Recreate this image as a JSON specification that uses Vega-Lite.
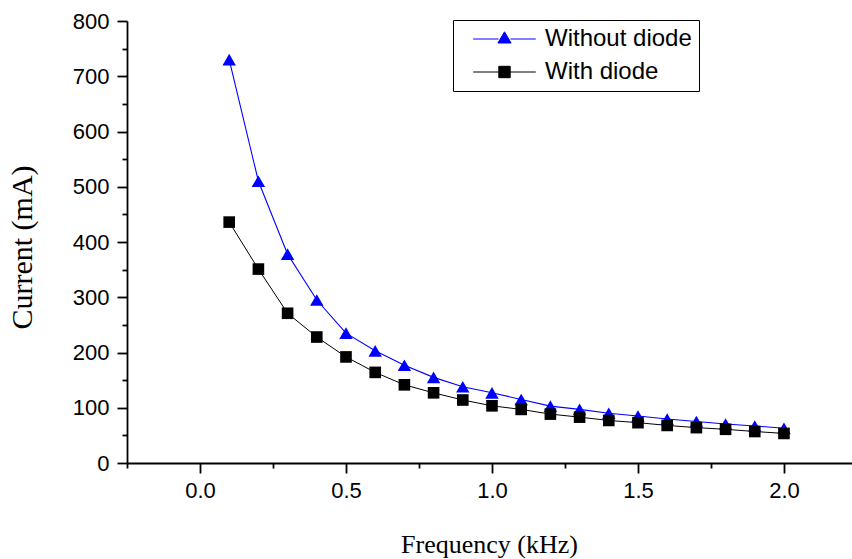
{
  "$schema": "https://vega.github.io/schema/vega-lite/v6.json",
  "width": 725,
  "height": 442,
  "autosize": {"type": "none"},
  "padding": {"left": 127, "top": 21, "right": 0, "bottom": 96},
  "background": "white",
  "config": {
    "view": {"stroke": null},
    "axis": {"grid": false, "domainColor": "black", "tickColor": "black", "labelColor": "black", "titleColor": "black", "domainWidth": 1.8, "tickWidth": 1.8},
    "legend": {"title": null, "orient": "none", "legendX": 326, "legendY": -1, "direction": "vertical", "padding": 7, "symbolOffset": 32.5, "symbolSize": 400, "symbolStrokeWidth": 1, "symbolOpacity": 1, "labelFont": "Liberation Sans", "labelFontSize": 24, "labelColor": "black", "labelOffset": 28.5, "rowPadding": 9, "strokeColor": "black", "fillColor": "white", "labelLimit": 400}
  },
  "data": {
    "values": [
      {"f": 0.1, "series": "Without diode", "v": 730},
      {"f": 0.2, "series": "Without diode", "v": 510},
      {"f": 0.3, "series": "Without diode", "v": 378},
      {"f": 0.4, "series": "Without diode", "v": 295},
      {"f": 0.5, "series": "Without diode", "v": 235},
      {"f": 0.6, "series": "Without diode", "v": 203},
      {"f": 0.7, "series": "Without diode", "v": 177},
      {"f": 0.8, "series": "Without diode", "v": 155},
      {"f": 0.9, "series": "Without diode", "v": 138},
      {"f": 1.0, "series": "Without diode", "v": 127},
      {"f": 1.1, "series": "Without diode", "v": 115},
      {"f": 1.2, "series": "Without diode", "v": 103},
      {"f": 1.3, "series": "Without diode", "v": 97},
      {"f": 1.4, "series": "Without diode", "v": 90},
      {"f": 1.5, "series": "Without diode", "v": 85},
      {"f": 1.6, "series": "Without diode", "v": 79.5},
      {"f": 1.7, "series": "Without diode", "v": 75},
      {"f": 1.8, "series": "Without diode", "v": 70.5},
      {"f": 1.9, "series": "Without diode", "v": 67},
      {"f": 2.0, "series": "Without diode", "v": 63},
      {"f": 0.1, "series": "With diode", "v": 436},
      {"f": 0.2, "series": "With diode", "v": 351},
      {"f": 0.3, "series": "With diode", "v": 271},
      {"f": 0.4, "series": "With diode", "v": 228},
      {"f": 0.5, "series": "With diode", "v": 192},
      {"f": 0.6, "series": "With diode", "v": 164},
      {"f": 0.7, "series": "With diode", "v": 141.5},
      {"f": 0.8, "series": "With diode", "v": 127},
      {"f": 0.9, "series": "With diode", "v": 114},
      {"f": 1.0, "series": "With diode", "v": 103.5},
      {"f": 1.1, "series": "With diode", "v": 97},
      {"f": 1.2, "series": "With diode", "v": 88.5},
      {"f": 1.3, "series": "With diode", "v": 83},
      {"f": 1.4, "series": "With diode", "v": 77},
      {"f": 1.5, "series": "With diode", "v": 73},
      {"f": 1.6, "series": "With diode", "v": 68},
      {"f": 1.7, "series": "With diode", "v": 64},
      {"f": 1.8, "series": "With diode", "v": 61},
      {"f": 1.9, "series": "With diode", "v": 57},
      {"f": 2.0, "series": "With diode", "v": 53.5}
    ]
  },
  "layer": [
    {
      "transform": [{"filter": "datum.series === 'Without diode'"}],
      "mark": {"type": "line", "color": "#0000ff", "strokeWidth": 1.1},
      "encoding": {
        "x": {"field": "f", "type": "quantitative", "scale": {"domain": [-0.25, 2.233], "nice": false, "zero": false},
          "axis": {"orient": "bottom", "values": [0, 0.5, 1, 1.5, 2], "format": ".1f", "tickSize": 10, "labelFont": "Liberation Sans", "labelFontSize": 22, "labelPadding": 7, "title": "Frequency (kHz)", "titleFont": "Liberation Serif", "titleFontSize": 26, "titleFontWeight": "normal", "titleBaseline": "alphabetic", "titleY": 89, "titleX": 362}},
        "y": {"field": "v", "type": "quantitative", "scale": {"domain": [0, 800], "nice": false},
          "axis": {"orient": "left", "values": [0, 100, 200, 300, 400, 500, 600, 700, 800], "tickSize": 10, "labelFont": "Liberation Sans", "labelFontSize": 22, "labelPadding": 8, "title": "Current (mA)", "titleFont": "Liberation Serif", "titleFontSize": 30, "titleFontWeight": "normal", "titleAngle": -90, "titleBaseline": "alphabetic", "titleAlign": "center", "titleX": -96, "titleY": 226}}
      }
    },
    {
      "transform": [{"filter": "datum.series === 'With diode'"}],
      "mark": {"type": "line", "color": "#000000", "strokeWidth": 1},
      "encoding": {
        "x": {"field": "f", "type": "quantitative",
          "axis": {"orient": "bottom", "values": [-0.25, 0.25, 0.75, 1.25, 1.75], "tickSize": 5, "labels": false, "domain": false, "title": null}},
        "y": {"field": "v", "type": "quantitative",
          "axis": {"orient": "left", "values": [50, 150, 250, 350, 450, 550, 650, 750], "tickSize": 5, "labels": false, "domain": false, "title": null}}
      }
    },
    {
      "transform": [{"filter": "datum.series === 'Without diode'"}],
      "mark": {"type": "point", "shape": "triangle-up", "filled": true, "size": 180, "color": "#0000ff", "opacity": 1},
      "encoding": {
        "x": {"field": "f", "type": "quantitative", "axis": null},
        "y": {"field": "v", "type": "quantitative", "axis": null}
      }
    },
    {
      "transform": [{"filter": "datum.series === 'With diode'"}],
      "mark": {"type": "point", "shape": "square", "filled": true, "size": 135, "color": "#000000", "opacity": 1},
      "encoding": {
        "x": {"field": "f", "type": "quantitative", "axis": null},
        "y": {"field": "v", "type": "quantitative", "axis": null}
      }
    },
    {
      "mark": {"type": "point", "filled": true, "opacity": 0},
      "encoding": {
        "x": {"field": "f", "type": "quantitative", "axis": null},
        "y": {"field": "v", "type": "quantitative", "axis": null},
        "color": {"field": "series", "type": "nominal",
          "scale": {"domain": ["Without diode", "With diode"], "range": ["#0000ff", "#000000"]},
          "legend": {"labelExpr": "datum.label + '  '"}},
        "stroke": {"field": "series", "type": "nominal",
          "scale": {"domain": ["Without diode", "With diode"], "range": ["#0000ff", "#000000"]},
          "legend": {"labelExpr": "datum.label + '  '"}},
        "shape": {"field": "series", "type": "nominal",
          "scale": {"domain": ["Without diode", "With diode"], "range": ["M-3.13,0H-0.6M0.6,0H3.13M0,-0.72L0.66,0.4L-0.66,0.4Z", "M-3.13,0H-0.57M0.57,0H3.13M-0.57,-0.57H0.57V0.57H-0.57Z"]},
          "legend": {"labelExpr": "datum.label + '  '"}}
      }
    }
  ],
  "resolve": {"axis": {"x": "independent", "y": "independent"}}
}
